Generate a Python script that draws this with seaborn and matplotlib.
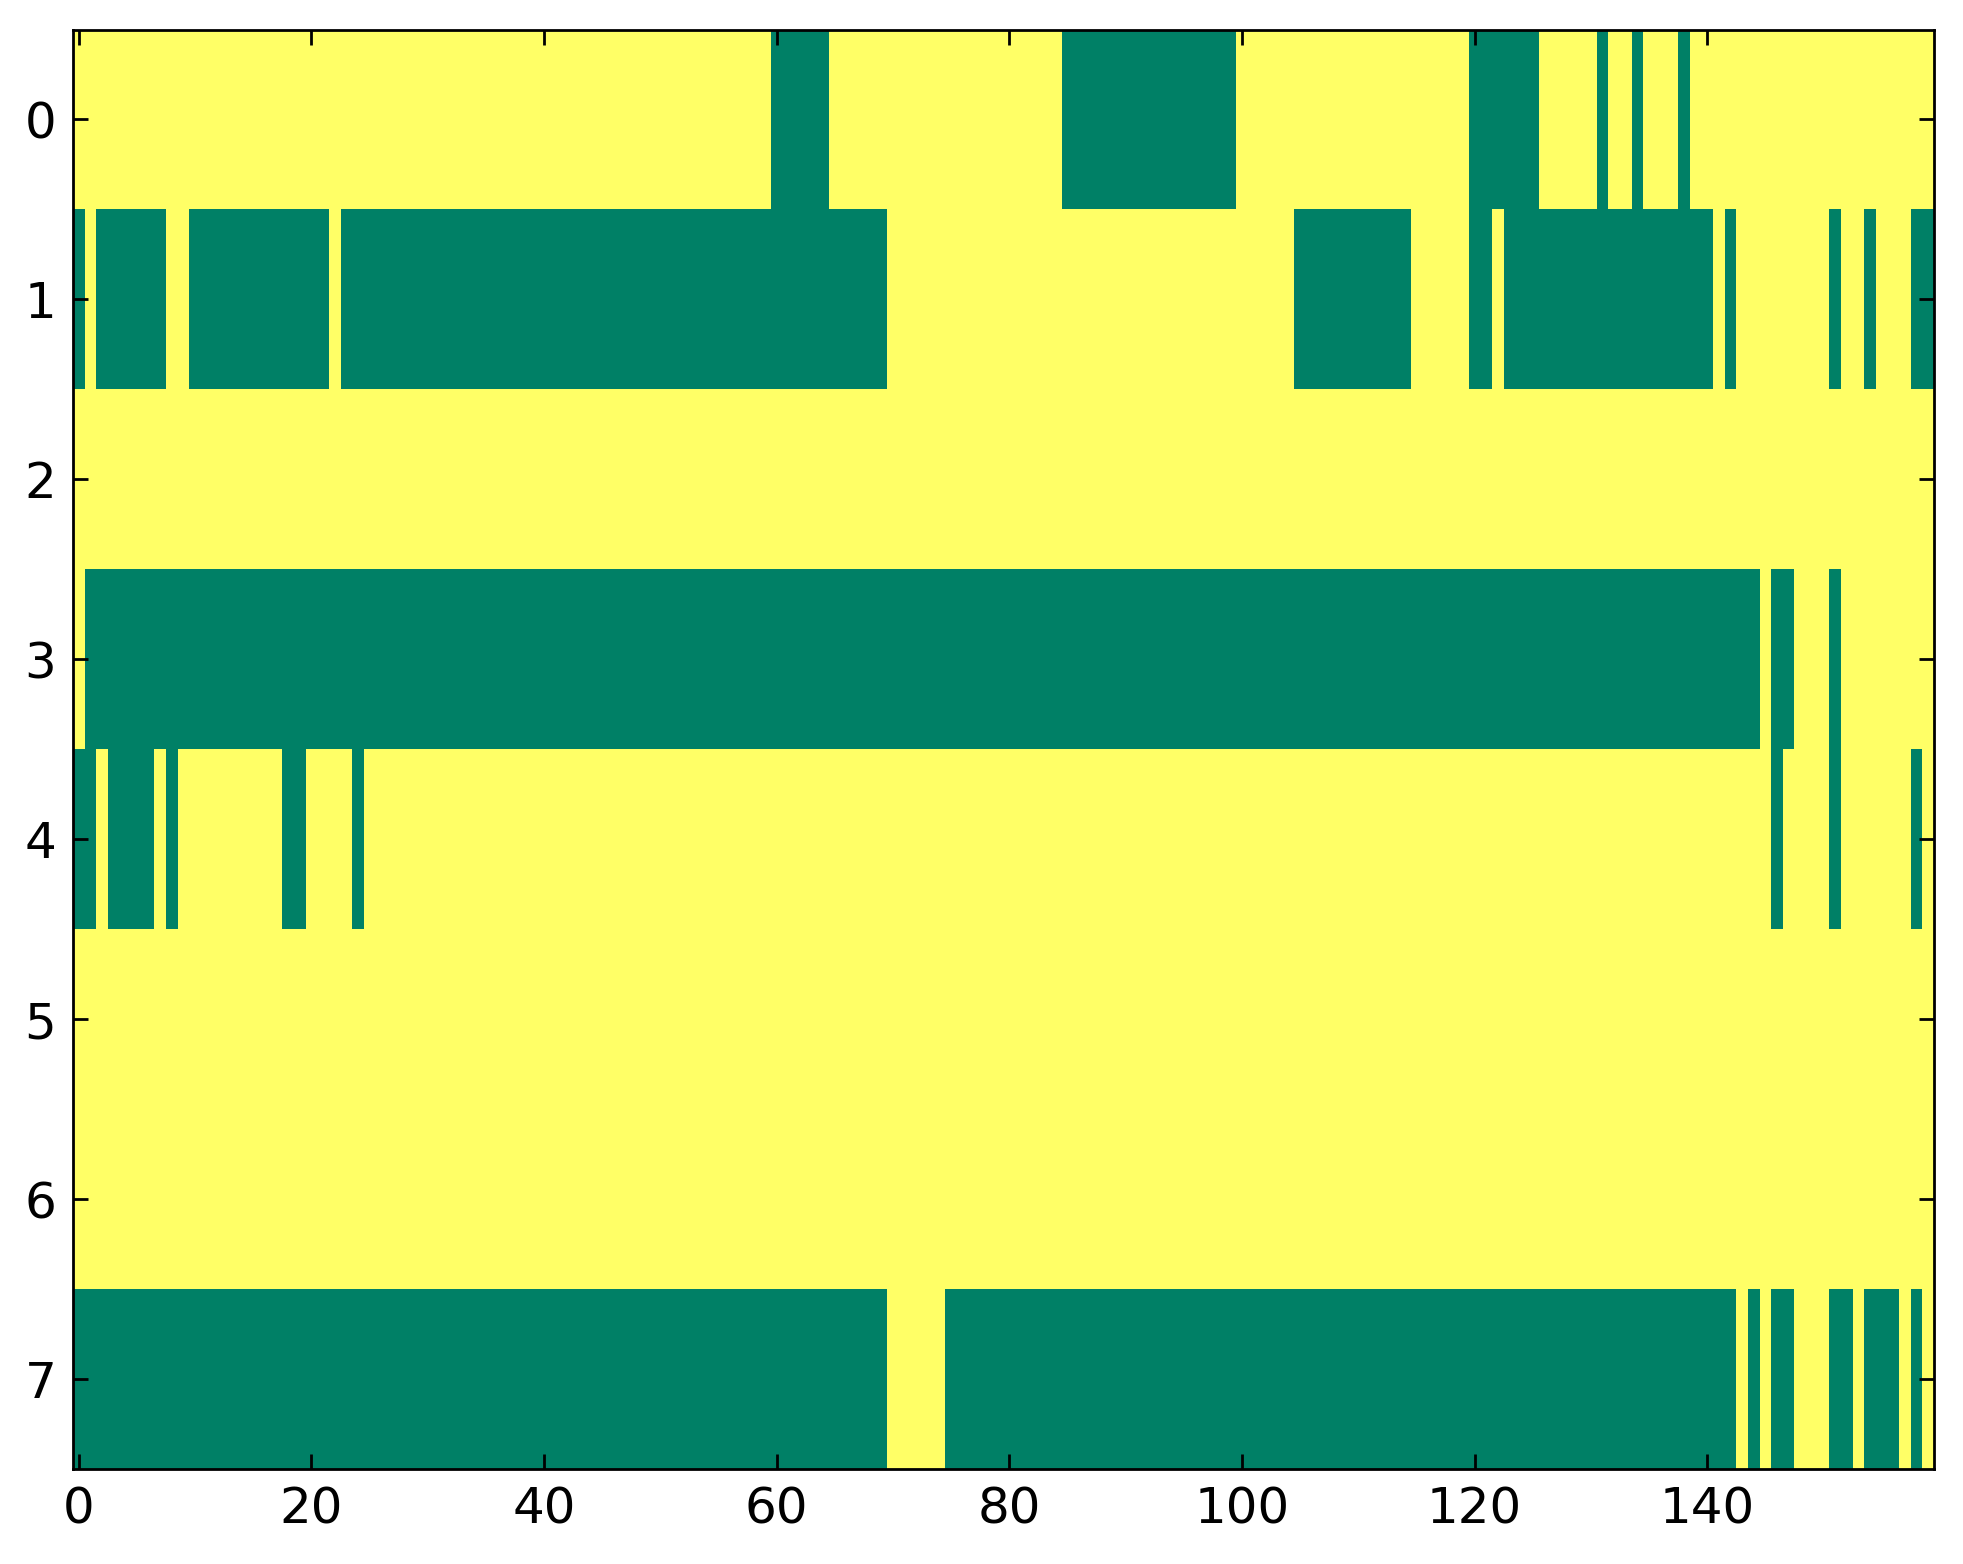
import numpy as np
import pandas as pd
import seaborn as sns
import matplotlib
matplotlib.use("Agg")
import matplotlib.pyplot as plt

# 1 = high (yellow), 0 = low (green); groups of 10 columns, 160 columns per row
row0 = ("1111111111 1111111111 1111111111 1111111111 1111111111 1111111111 "
        "0000011111 1111111111 1111100000 0000000000 1111111111 1111111111 "
        "0000001111 1011011101 1111111111 1111111111")
row1 = ("0100000011 0000000000 0010000000 0000000000 0000000000 0000000000 "
        "0000000000 1111111111 1111111111 1111111111 1111100000 0000011111 "
        "0010000000 0000000000 0101111111 1011011100")
row2 = ("1111111111 1111111111 1111111111 1111111111 1111111111 1111111111 "
        "1111111111 1111111111 1111111111 1111111111 1111111111 1111111111 "
        "1111111111 1111111111 1111111111 1111111111")
row3 = ("1000000000 0000000000 0000000000 0000000000 0000000000 0000000000 "
        "0000000000 0000000000 0000000000 0000000000 0000000000 0000000000 "
        "0000000000 0000000000 0000010011 1011111111")
row4 = ("0010000101 1111111100 1111011111 1111111111 1111111111 1111111111 "
        "1111111111 1111111111 1111111111 1111111111 1111111111 1111111111 "
        "1111111111 1111111111 1111110111 1011111101")
row5 = ("1111111111 1111111111 1111111111 1111111111 1111111111 1111111111 "
        "1111111111 1111111111 1111111111 1111111111 1111111111 1111111111 "
        "1111111111 1111111111 1111111111 1111111111")
row6 = ("1111111111 1111111111 1111111111 1111111111 1111111111 1111111111 "
        "1111111111 1111111111 1111111111 1111111111 1111111111 1111111111 "
        "1111111111 1111111111 1111111111 1111111111")
row7 = ("0000000000 0000000000 0000000000 0000000000 0000000000 0000000000 "
        "0000000000 1111100000 0000000000 0000000000 0000000000 0000000000 "
        "0000000000 0000000000 0001010011 1001000101")

rows = [row0, row1, row2, row3, row4, row5, row6, row7]
xtick_vals = [0, 20, 40, 60, 80, 100, 120, 140]
ytick_vals = [0, 1, 2, 3, 4, 5, 6, 7]

data = np.array([[int(c) for c in r.replace(" ", "")] for r in rows])
assert data.shape == (8, 160), data.shape

plt.rcParams['font.family'] = ['DejaVu Sans']
fig = plt.figure(figsize=(1963 / 200, 1564 / 200), dpi=200)
ax = fig.add_axes([73 / 1963, 1 - 1469 / 1564, (1934 - 73) / 1963, (1469 - 29.5) / 1564])

sns.heatmap(pd.DataFrame(data), cmap="summer", vmin=0, vmax=1, cbar=False, ax=ax,
            xticklabels=False, yticklabels=False)

for s in ax.spines.values():
    s.set_visible(True)
    s.set_linewidth(1.0)
    s.set_color("black")

ax.set_xticks(np.array(xtick_vals) + 0.5)
ax.set_xticklabels([str(v) for v in xtick_vals])
ax.set_yticks(np.array(ytick_vals) + 0.5)
ax.set_yticklabels([str(v) for v in ytick_vals], rotation=0)
ax.tick_params(axis="both", direction="in", top=True, right=True, bottom=True, left=True,
               length=5.4, width=1.0, labelsize=18, pad=6, colors="black")
ax.set_xlabel("")
ax.set_ylabel("")

fig.savefig("out.png", dpi=200)
